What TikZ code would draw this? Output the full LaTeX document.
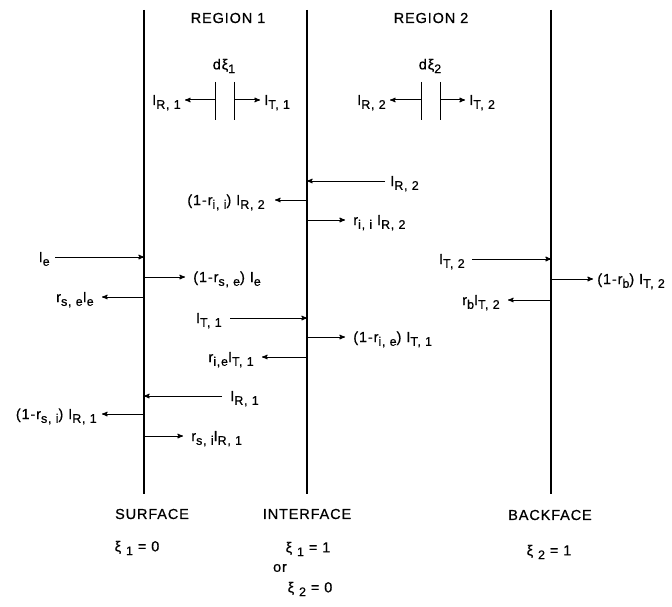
\documentclass[tikz,border=0pt]{standalone}
\usepackage{fontspec}
\setmainfont{Liberation Sans}[LetterSpace=6.0,FakeBold=0.6]
\usepackage{tikz}
\usetikzlibrary{arrows,positioning}
\newcommand{\sub}[1]{\raisebox{-0.5ex}{\fontsize{12.5}{13}\selectfont #1}}
\begin{document}
\begin{tikzpicture}[x=1pt,y=-1pt,->,>=stealth',semithick,font=\fontsize{14.5}{16}\selectfont]
		\tikzstyle{wall}=[-,line width=2pt]
		\tikzstyle{tick}=[-,line width=0.8pt]
		\tikzstyle{ray}=[->,line width=1pt]
		\tikzstyle{lr}=[anchor=base west,yshift=-5pt,inner sep=0pt]
		\tikzstyle{ll}=[anchor=base east,yshift=-5pt,inner sep=0pt]
		\useasboundingbox (0,0) rectangle (672,607);
		\coordinate (S top) at (144,10);
		\coordinate (S bot) at (144,494);
		\coordinate (I top) at (307,10);
		\coordinate (I bot) at (307,494);
		\coordinate (B top) at (551,10);
		\coordinate (B bot) at (551,494);
		\draw[wall] (S top) -- (S bot);
		\draw[wall] (I top) -- (I bot);
		\draw[wall] (B top) -- (B bot);
		\node (reg1) at (228,18) {REGION 1};
		\node (reg2) at (431,18) {REGION 2};
		\node (dxi1) at (224,66) {dξ\sub{1}};
		\node (dxi2) at (430,66) {dξ\sub{2}};
		\coordinate (d1a) at (215,82);
		\coordinate (d1b) at (215,120);
		\coordinate (d1c) at (234,82);
		\coordinate (d1d) at (234,120);
		\coordinate (d2a) at (421,82);
		\coordinate (d2b) at (421,120);
		\coordinate (d2c) at (440,82);
		\coordinate (d2d) at (440,120);
		\draw[tick] (d1a) -- (d1b);
		\draw[tick] (d1c) -- (d1d);
		\draw[tick] (d2a) -- (d2b);
		\draw[tick] (d2c) -- (d2d);
		\coordinate (m1l) at (215,100);
		\coordinate (m1r) at (234,100);
		\coordinate (m2l) at (421,100);
		\coordinate (m2r) at (440,100);
		\coordinate (e1l) at (185,100);
		\coordinate (e1r) at (260,100);
		\coordinate (e2l) at (390,100);
		\coordinate (e2r) at (465,100);
		\draw[ray] (m1l) -- (e1l);
		\draw[ray] (m1r) -- (e1r);
		\draw[ray] (m2l) -- (e2l);
		\draw[ray] (m2r) -- (e2r);
		\node[left=4pt of e1l,ll] (IR1top) {I\sub{R, 1}};
		\node[right=4pt of e1r,lr] (IT1top) {I\sub{T, 1}};
		\node[left=4pt of e2l,ll] (IR2top) {I\sub{R, 2}};
		\node[right=4pt of e2r,lr] (IT2top) {I\sub{T, 2}};
		\coordinate (s1) at (144,257);
		\coordinate (s2) at (144,277);
		\coordinate (s3) at (144,297);
		\coordinate (s4) at (144,396);
		\coordinate (s5) at (144,414);
		\coordinate (s6) at (144,436);
		\coordinate (f1) at (55,257);
		\coordinate (f2) at (185,277);
		\coordinate (f3) at (102,297);
		\coordinate (f4) at (222,396);
		\coordinate (f5) at (102,414);
		\coordinate (f6) at (183,436);
		\draw[ray] (f1) -- (s1);
		\draw[ray] (s2) -- (f2);
		\draw[ray] (s3) -- (f3);
		\draw[ray] (f4) -- (s4);
		\draw[ray] (s5) -- (f5);
		\draw[ray] (s6) -- (f6);
		\node[left=5pt of f1,ll] (Ie) {I\sub{e}};
		\node[right=8pt of f2,lr] (Ise) {(1-r\sub{s, e}) I\sub{e}};
		\node[left=8pt of f3,ll] (rse) {r\sub{s, e}I\sub{e}};
		\node[right=8pt of f4,lr] (IR1) {I\sub{R, 1}};
		\node[left=5pt of f5,ll] (Isi) {(1-r\sub{s, i}) I\sub{R, 1}};
		\node[right=8pt of f6,lr] (rsi) {r\sub{s, i}I\sub{R, 1}};
		\coordinate (i1) at (307,181);
		\coordinate (i2) at (307,200);
		\coordinate (i3) at (307,220);
		\coordinate (i4) at (307,318);
		\coordinate (i5) at (307,337);
		\coordinate (i6) at (307,357);
		\coordinate (g1) at (385,181);
		\coordinate (g2) at (275,200);
		\coordinate (g3) at (345,220);
		\coordinate (g4) at (230,318);
		\coordinate (g5) at (345,337);
		\coordinate (g6) at (262,357);
		\draw[ray] (g1) -- (i1);
		\draw[ray] (i2) -- (g2);
		\draw[ray] (i3) -- (g3);
		\draw[ray] (g4) -- (i4);
		\draw[ray] (i5) -- (g5);
		\draw[ray] (i6) -- (g6);
		\node[right=5pt of g1,lr] (IR2) {I\sub{R, 2}};
		\node[left=10pt of g2,ll] (Iii) {(1-r\sub{i, i}) I\sub{R, 2}};
		\node[right=8pt of g3,lr] (rii) {r\sub{i, i} I\sub{R, 2}};
		\node[left=8pt of g4,ll] (IT1) {I\sub{T, 1}};
		\node[right=8pt of g5,lr] (Iie) {(1-r\sub{i, e}) I\sub{T, 1}};
		\node[left=8pt of g6,ll] (rie) {r\sub{i,e}I\sub{T, 1}};
		\coordinate (b1) at (551,259);
		\coordinate (b2) at (551,279);
		\coordinate (b3) at (551,300);
		\coordinate (h1) at (472,259);
		\coordinate (h2) at (593,279);
		\coordinate (h3) at (508,300);
		\draw[ray] (h1) -- (b1);
		\draw[ray] (b2) -- (h2);
		\draw[ray] (b3) -- (h3);
		\node[left=7pt of h1,ll] (IT2) {I\sub{T, 2}};
		\node[right=4pt of h2,lr] (Ib) {(1-r\sub{b}) I\sub{T, 2}};
		\node[left=8pt of h3,ll] (rb) {r\sub{b}I\sub{T, 2}};
		\node (surf) at (152,514) {SURFACE};
		\node (intf) at (307,514) {INTERFACE};
		\node (back) at (550,515) {BACKFACE};
		\node (xs) at (137,548) {ξ \sub{1} = 0};
		\node (xi1) at (308,549) {ξ \sub{1} = 1};
		\node (or) at (280,568) {or};
		\node (xi2) at (310,589) {ξ \sub{2} = 0};
		\node (xb) at (549,552) {ξ \sub{2} = 1};
\end{tikzpicture}
\end{document}
